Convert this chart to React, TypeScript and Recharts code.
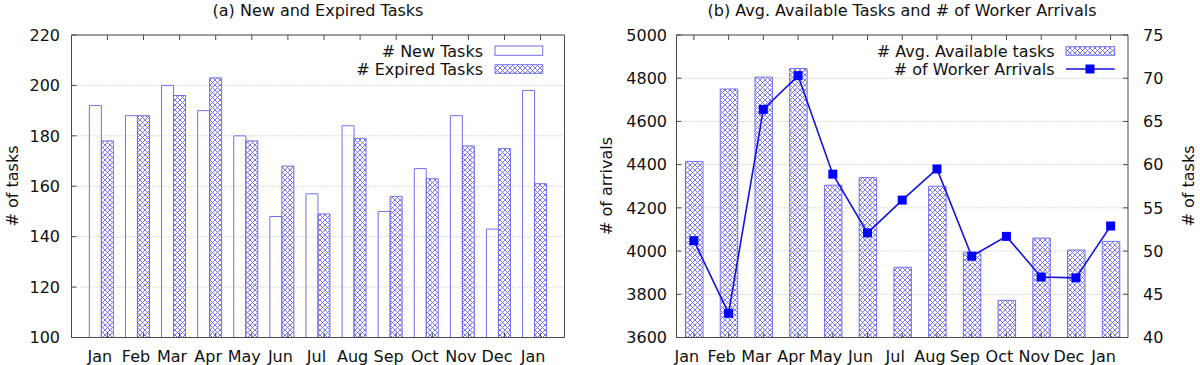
import {
  BarChart,
  ComposedChart,
  Bar,
  Line,
  XAxis,
  YAxis,
  CartesianGrid,
  Legend,
} from "recharts";

const MONTHS = ["Jan", "Feb", "Mar", "Apr", "May", "Jun", "Jul", "Aug", "Sep", "Oct", "Nov", "Dec", "Jan"];
const NEW_TASKS = [192, 188, 200, 190, 180, 148, 157, 184, 150, 167, 188, 143, 198];
const EXPIRED_TASKS = [178, 188, 196, 203, 178, 168, 149, 179, 156, 163, 176, 175, 161];
const AVG_AVAILABLE = [4415, 4750, 4805, 4845, 4305, 4340, 3925, 4300, 3995, 3772, 4060, 4005, 4045];
const WORKER_ARRIVALS = [51.2, 42.8, 66.4, 70.3, 58.9, 52.1, 55.9, 59.5, 49.4, 51.7, 47.0, 46.9, 52.9];
const TASK_TICKS = [100, 120, 140, 160, 180, 200, 220];
const ARRIVAL_TICKS = [3600, 3800, 4000, 4200, 4400, 4600, 4800, 5000];
const RIGHT_TICKS = [40, 45, 50, 55, 60, 65, 70, 75];

const FONT = "'DejaVu Sans', sans-serif";
const AXIS = "#4a4a4a";
const BAR_STROKE = "#7070ee";
const HATCH = "#6a6ae6";
const GRID = "#b8b8b8";

const taskData = MONTHS.map((m, i) => ({
  month: m,
  newTasks: NEW_TASKS[i],
  expired: EXPIRED_TASKS[i],
}));

const arrivalData = MONTHS.map((m, i) => ({
  month: m,
  available: AVG_AVAILABLE[i],
  arrivals: WORKER_ARRIVALS[i],
}));

function Hatch({ id }: { id: string }) {
  return (
    <pattern id={id} width={5} height={5} patternUnits="userSpaceOnUse">
      <path d="M0,0 L5,5 M5,0 L0,5 M-1,4 L1,6 M4,-1 L6,1 M-1,1 L1,-1 M4,6 L6,4" stroke={HATCH} strokeWidth={0.9} />
    </pattern>
  );
}

// gnuplot style: ticks point inwards, labels outside
const bottomTick = (labelDx: number, tickDx: number) => (p: any) => (
  <g>
    <line x1={p.x + tickDx} x2={p.x + tickDx} y1={p.y} y2={p.y - 5} stroke={AXIS} />
    <text
      x={p.x + labelDx}
      y={p.y + 19}
      dy="0.35em"
      textAnchor="middle"
      fontFamily={FONT}
      fontSize={16}
      fill="#111"
    >
      {p.payload.value}
    </text>
  </g>
);

const topTick = (tickDx: number) => (p: any) => (
  <line x1={p.x + tickDx} x2={p.x + tickDx} y1={p.y} y2={p.y + 5} stroke={AXIS} />
);

const leftTick = (gap: number) => (p: any) => (
  <g>
    <line x1={p.x} x2={p.x + 5} y1={p.y} y2={p.y} stroke={AXIS} />
    <text
      x={p.x - gap}
      y={p.y}
      dy="0.36em"
      textAnchor="end"
      fontFamily={FONT}
      fontSize={16}
      fill="#111"
    >
      {p.payload.value}
    </text>
  </g>
);

const rightTick = (gap: number | null) => (p: any) => (
  <g>
    <line x1={p.x} x2={p.x - 5} y1={p.y} y2={p.y} stroke={AXIS} />
    {gap !== null && (
      <text
        x={p.x + gap}
        y={p.y}
        dy="0.36em"
        textAnchor="start"
        fontFamily={FONT}
        fontSize={16}
        fill="#111"
      >
        {p.payload.value}
      </text>
    )}
  </g>
);

function TaskLegend() {
  return (
    <svg width={170} height={42} style={{ overflow: "visible" }}>
      <text x={103} y={18.5} textAnchor="end" fontFamily={FONT} fontSize={16} fill="#111">
        # New Tasks
      </text>
      <rect x={115} y={8} width={47.7} height={9.3} fill="none" stroke={BAR_STROKE} />
      <text x={103} y={36.5} textAnchor="end" fontFamily={FONT} fontSize={16} fill="#111">
        # Expired Tasks
      </text>
      <rect x={115} y={26.7} width={47.7} height={8.6} fill="url(#hatchA)" stroke={BAR_STROKE} />
    </svg>
  );
}

function ArrivalLegend() {
  return (
    <svg width={180} height={42} style={{ overflow: "visible" }}>
      <text x={114.6} y={18.5} textAnchor="end" fontFamily={FONT} fontSize={16} fill="#111">
        # Avg. Available tasks
      </text>
      <rect x={126} y={8.7} width={48.7} height={8.6} fill="url(#hatchB)" stroke={BAR_STROKE} />
      <text x={114.6} y={37} textAnchor="end" fontFamily={FONT} fontSize={16} fill="#111">
        # of Worker Arrivals
      </text>
      <line x1={126} x2={174.7} y1={31} y2={31} stroke="#1414dc" strokeWidth={1.6} />
      <rect x={145.5} y={26.5} width={9} height={9} fill="#0000ff" />
    </svg>
  );
}

function SquareDot(p: any) {
  if (p.cx == null || p.cy == null) return <g key={p.index} />;
  return <rect key={p.index} x={p.cx - 4.5} y={p.cy - 4.5} width={9} height={9} fill="#0000ff" />;
}

export default function App() {
  return (
    <div style={{ position: "absolute", left: 0, top: 0, width: 1200, height: 365, background: "#fff" }}>
      <div style={{ position: "absolute", left: 0, top: 0 }}>
        <BarChart
          width={600}
          height={365}
          data={taskData}
          margin={{ top: 30, right: 25.5, bottom: 7.5, left: 11.5 }}
          barGap={0}
        >
          <defs>
            <Hatch id="hatchA" />
          </defs>
          <CartesianGrid vertical={false} stroke={GRID} strokeDasharray="1 2" />
          <XAxis
            dataKey="month"
            height={20}
            padding={{ left: 11.85, right: 11.85 }}
            interval={0}
            tickSize={0}
            tickMargin={0}
            tickLine={false}
            axisLine={{ stroke: AXIS }}
            tick={bottomTick(-1.5, 6)}
          />
          <XAxis
            xAxisId="top"
            orientation="top"
            dataKey="month"
            height={5}
            padding={{ left: 11.85, right: 11.85 }}
            interval={0}
            tickSize={0}
            tickMargin={0}
            tickLine={false}
            axisLine={{ stroke: AXIS }}
            tick={topTick(6)}
          />
          <YAxis
            domain={[100, 220]}
            ticks={TASK_TICKS}
            width={60}
            interval={0}
            tickSize={0}
            tickMargin={0}
            tickLine={false}
            axisLine={{ stroke: AXIS }}
            tick={leftTick(11.5)}
          />
          <YAxis
            yAxisId="mirror"
            orientation="right"
            domain={[100, 220]}
            ticks={TASK_TICKS}
            width={10}
            interval={0}
            tickSize={0}
            tickMargin={0}
            tickLine={false}
            axisLine={{ stroke: AXIS }}
            tick={rightTick(null)}
          />
          <Bar dataKey="newTasks" fill="none" stroke={BAR_STROKE} barSize={12} isAnimationActive={false} />
          <Bar dataKey="expired" fill="url(#hatchA)" stroke={BAR_STROKE} barSize={12} isAnimationActive={false} />
          <Legend
            layout="horizontal"
            verticalAlign="middle"
            align="center"
            content={() => <TaskLegend />}
            wrapperStyle={{ left: 380, top: 38, width: 170, height: 42 }}
          />
        </BarChart>
      </div>

      <div style={{ position: "absolute", left: 600, top: 0 }}>
        <ComposedChart
          width={600}
          height={365}
          data={arrivalData}
          margin={{ top: 30, right: 12, bottom: 7.5, left: 16.5 }}
        >
          <defs>
            <Hatch id="hatchB" />
          </defs>
          <CartesianGrid vertical={false} stroke={GRID} strokeDasharray="1 2" />
          <XAxis
            dataKey="month"
            height={20}
            interval={0}
            tickSize={0}
            tickMargin={0}
            tickLine={false}
            axisLine={{ stroke: AXIS }}
            tick={bottomTick(-7, 0)}
          />
          <XAxis
            xAxisId="top"
            orientation="top"
            dataKey="month"
            height={5}
            interval={0}
            tickSize={0}
            tickMargin={0}
            tickLine={false}
            axisLine={{ stroke: AXIS }}
            tick={topTick(0)}
          />
          <YAxis
            domain={[3600, 5000]}
            ticks={ARRIVAL_TICKS}
            width={60}
            interval={0}
            tickSize={0}
            tickMargin={0}
            tickLine={false}
            axisLine={{ stroke: AXIS }}
            tick={leftTick(9.5)}
          />
          <YAxis
            yAxisId="right"
            orientation="right"
            domain={[40, 75]}
            ticks={RIGHT_TICKS}
            width={60}
            interval={0}
            tickSize={0}
            tickMargin={0}
            tickLine={false}
            axisLine={{ stroke: AXIS }}
            tick={rightTick(15)}
          />
          <Bar dataKey="available" fill="url(#hatchB)" stroke={BAR_STROKE} barSize={17.5} isAnimationActive={false} />
          <Line
            yAxisId="right"
            dataKey="arrivals"
            type="linear"
            stroke="#1414dc"
            strokeWidth={1.6}
            dot={SquareDot}
            activeDot={false}
            isAnimationActive={false}
          />
          <Legend
            layout="horizontal"
            verticalAlign="middle"
            align="center"
            content={() => <ArrivalLegend />}
            wrapperStyle={{ left: 340, top: 38, width: 180, height: 42 }}
          />
        </ComposedChart>
      </div>

      {/* titles and axis labels */}
      <svg
        width={1200}
        height={365}
        style={{ position: "absolute", left: 0, top: 0, pointerEvents: "none" }}
        fontFamily={FONT}
        fontSize={16}
        fill="#111"
      >
        <text x={318} y={16} textAnchor="middle">(a) New and Expired Tasks</text>
        <text x={902} y={16} textAnchor="middle">(b) Avg. Available Tasks and # of Worker Arrivals</text>
        <text transform="translate(18,186) rotate(-90)" textAnchor="middle"># of tasks</text>
        <text transform="translate(612,186) rotate(-90)" textAnchor="middle"># of arrivals</text>
        <text transform="translate(1194,186) rotate(-90)" textAnchor="middle"># of tasks</text>
      </svg>
    </div>
  );
}
